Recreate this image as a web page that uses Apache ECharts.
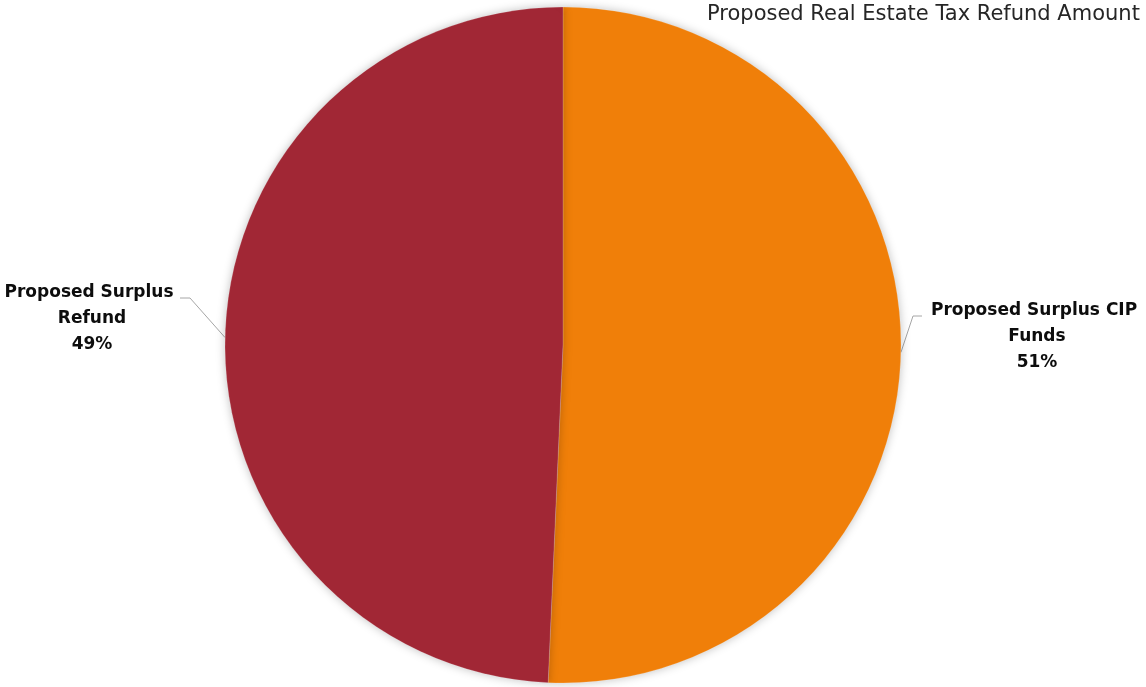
<!DOCTYPE html>
<html>
<head>
<meta charset="utf-8">
<script src="https://cdn.jsdelivr.net/npm/echarts@6/dist/echarts.min.js"></script>
<style>
html,body{margin:0;padding:0;background:#fff;}
#chart{width:1146px;height:687px;}
</style>
</head>
<body>
<div id="chart"></div>
<script>
const titleText = "Proposed Real Estate Tax Refund Amount";
const categories = ["Proposed Surplus CIP Funds", "Proposed Surplus Refund"];
const values = [50.7, 49.3];
const colors = ["#F07F09", "#A12735"];

const chart = echarts.init(document.getElementById('chart'), null, {renderer: 'canvas'});
const labelPos = [
  {x: 1037, y: 337, w: 225, elbow: [913, 316], end: [922, 316]},
  {x: 92, y: 319, w: 190, elbow: [190, 298], end: [180, 298]}
];
chart.setOption({
  animation: false,
  backgroundColor: '#ffffff',
  title: {
    text: titleText,
    left: 702,
    top: -1,
    textStyle: {fontFamily: 'DejaVu Sans', fontSize: 21, fontWeight: 'normal', color: '#262626'}
  },
  series: [{
    type: 'pie',
    center: [563, 345],
    radius: [0, 338],
    startAngle: 90,
    clockwise: true,
    data: categories.map((c, i) => ({
      name: c, value: values[i],
      itemStyle: {color: colors[i]},
      label: {width: labelPos[i].w}
    })),
    itemStyle: {
      borderColor: 'rgba(255,255,255,0.35)',
      borderWidth: 0.5,
      shadowBlur: 10,
      shadowColor: 'rgba(0,0,0,0.25)'
    },
    label: {
      show: true,
      formatter: p => p.name + '\n' + Math.round(p.percent) + '%',
      fontFamily: 'DejaVu Sans',
      fontSize: 17,
      fontWeight: 'bold',
      color: '#0d0d0d',
      lineHeight: 26,
      align: 'center',
      overflow: 'break'
    },
    labelLine: {
      show: true,
      length: 10,
      length2: 10,
      lineStyle: {color: '#a6a6a6', width: 1}
    },
    labelLayout: function (params) {
      const p = labelPos[params.dataIndex];
      const res = {x: p.x, y: p.y, align: 'center', verticalAlign: 'middle'};
      if (params.labelLinePoints && params.labelLinePoints[0]) {
        res.labelLinePoints = [params.labelLinePoints[0], p.elbow, p.end];
      }
      return res;
    }
  }]
});
</script>
</body>
</html>
